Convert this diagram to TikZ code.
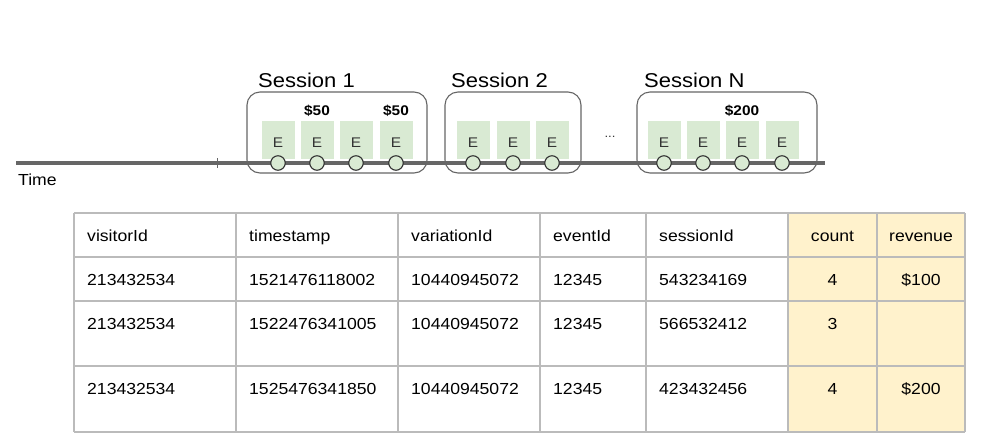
\documentclass[tikz,border=0pt]{standalone}
\usepackage{fontspec}
\setmainfont{Liberation Sans}[FakeStretch=1.1]
\definecolor{egreen}{HTML}{D9EAD3}
\definecolor{cellyellow}{HTML}{FFF2CC}
\definecolor{gridgray}{HTML}{BBBBBB}
\definecolor{linegray}{HTML}{666666}
\tikzset{
  sessionbox/.style={draw=black!60, line width=1.1pt, rounded corners=13pt, minimum height=81pt, inner sep=0pt},
  ebox/.style={fill=egreen, minimum width=33pt, minimum height=38pt, inner sep=0pt, text height=14pt, font=\fontsize{14}{14}\selectfont, text=black!80},
  evt/.style={circle, draw=black!80, fill=egreen, line width=1.1pt, minimum size=14.5pt, inner sep=0pt},
  money/.style={anchor=base, inner sep=0pt, font=\fontsize{14}{14}\selectfont\bfseries},
  stitle/.style={anchor=base west, inner sep=0pt, font=\fontsize{20}{20}\selectfont},
  cell/.style={anchor=base west, inner sep=0pt, font=\fontsize{16}{16}\selectfont},
  ccell/.style={anchor=base, inner sep=0pt, font=\fontsize{16}{16}\selectfont},
  tablegrid/.style={draw=gridgray, line width=1.5pt},
  timeline/.style={draw=linegray, line width=3.3pt}
}
\begin{document}
\begin{tikzpicture}[x=1pt,y=-1pt]
\useasboundingbox (0,0) rectangle (982,445);

% timeline
\coordinate (tstart) at (16,163);
\coordinate (tend) at (825,163);
\draw[timeline] (tstart) -- (tend);
\coordinate (ticktop) at (217,158);
\coordinate (tickbot) at (217,168);
\draw[linegray, line width=0.8pt] (ticktop) -- (tickbot);
\node[anchor=base west, inner sep=0pt, font=\fontsize{16}{16}\selectfont] (time) at (18,185.5) {Time};

% session boxes
\node[sessionbox, minimum width=180pt] (s1) at (337,132.5) {};
\node[sessionbox, minimum width=136pt] (s2) at (513,132.5) {};
\node[sessionbox, minimum width=180pt] (sN) at (727,132.5) {};

\node[stitle] (t1) at (258,87) {Session 1};
\node[stitle] (t2) at (451,87) {Session 2};
\node[stitle] (tN) at (644,87) {Session N};

% events
\foreach \x [count=\i] in {278,317,356,396}{
  \node[ebox] (e1-\i) at (\x,140) {E};
  \node[evt] (c1-\i) at (\x,163) {};
}
\foreach \x [count=\i] in {473,513,552}{
  \node[ebox] (e2-\i) at (\x,140) {E};
  \node[evt] (c2-\i) at (\x,163) {};
}
\foreach \x [count=\i] in {664,703,742,782}{
  \node[ebox] (eN-\i) at (\x,140) {E};
  \node[evt] (cN-\i) at (\x,163) {};
}
\node[money] (m1) at (317,115) {\$50};
\node[money] (m2) at (396,115) {\$50};
\node[money] (m3) at (742,115) {\$200};
\node[inner sep=0pt, font=\fontsize{12}{12}\selectfont, text=black!80] (dots) at (610,137) {...};

% table
\fill[cellyellow] (788,213) rectangle (965,432);
\foreach \x in {74,236,398,540,646,788,877,965}{
  \draw[tablegrid] (\x,213) -- (\x,432);
}
\foreach \y in {213,257,301,366,432}{
  \draw[tablegrid] (74,\y) -- (965,\y);
}

% header
\foreach \txt/\x [count=\j] in {visitorId/87, timestamp/249, variationId/411, eventId/553, sessionId/659}{
  \node[cell] (h-\j) at (\x,241.5) {\txt};
}
\node[ccell] (h-6) at (832.5,241.5) {count};
\node[ccell] (h-7) at (921,241.5) {revenue};

% row 1
\node[cell] (r1-1) at (87,285.5) {213432534};
\node[cell] (r1-2) at (249,285.5) {1521476118002};
\node[cell] (r1-3) at (411,285.5) {10440945072};
\node[cell] (r1-4) at (553,285.5) {12345};
\node[cell] (r1-5) at (659,285.5) {543234169};
\node[ccell] (r1-6) at (832.5,285.5) {4};
\node[ccell] (r1-7) at (921,285.5) {\$100};

% row 2
\node[cell] (r2-1) at (87,329.5) {213432534};
\node[cell] (r2-2) at (249,329.5) {1522476341005};
\node[cell] (r2-3) at (411,329.5) {10440945072};
\node[cell] (r2-4) at (553,329.5) {12345};
\node[cell] (r2-5) at (659,329.5) {566532412};
\node[ccell] (r2-6) at (832.5,329.5) {3};

% row 3
\node[cell] (r3-1) at (87,394.5) {213432534};
\node[cell] (r3-2) at (249,394.5) {1525476341850};
\node[cell] (r3-3) at (411,394.5) {10440945072};
\node[cell] (r3-4) at (553,394.5) {12345};
\node[cell] (r3-5) at (659,394.5) {423432456};
\node[ccell] (r3-6) at (832.5,394.5) {4};
\node[ccell] (r3-7) at (921,394.5) {\$200};
\end{tikzpicture}
\end{document}
